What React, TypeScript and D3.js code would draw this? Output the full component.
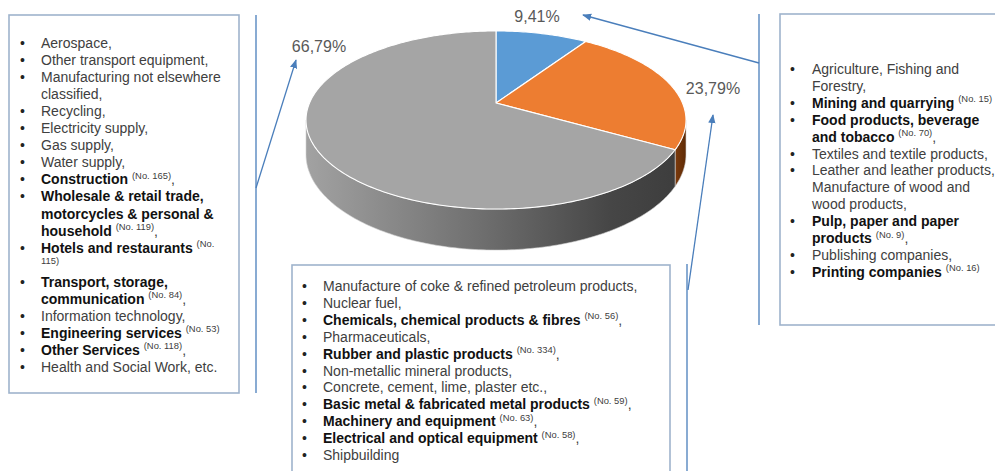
import React from "react";
import * as d3 from "d3";

// ---------- data ----------
const sliceValues = [9.41, 23.79, 66.79];
const sliceLabels = ["9,41%", "23,79%", "66,79%"];
const sliceColors = ["#5b9bd5", "#ed7d31", "#a5a5a5"];

// markup: "• " = bullet line, "  " = continuation, *bold*, ^superscript^
const leftLines = [
  "• Aerospace,",
  "• Other transport equipment,",
  "• Manufacturing not elsewhere",
  "  classified,",
  "• Recycling,",
  "• Electricity supply,",
  "• Gas supply,",
  "• Water supply,",
  "• *Construction* ^(No. 165)^,",
  "• *Wholesale & retail trade,*",
  "  *motorcycles & personal &*",
  "  *household* ^(No. 119)^,",
  "• *Hotels and restaurants* ^(No.^",
  "  ^115)^",
  "• *Transport, storage,*",
  "  *communication* ^(No. 84)^,",
  "• Information technology,",
  "• *Engineering services* ^(No. 53)^",
  "• *Other Services* ^(No. 118)^,",
  "• Health and Social Work, etc.",
];

const rightLines = [
  "• Agriculture, Fishing and",
  "  Forestry,",
  "• *Mining and quarrying* ^(No. 15)^",
  "• *Food products, beverage*",
  "  *and tobacco* ^(No. 70)^,",
  "• Textiles and textile products,",
  "• Leather and leather products,",
  "  Manufacture of wood and",
  "  wood products,",
  "• *Pulp, paper and paper*",
  "  *products* ^(No. 9)^,",
  "• Publishing companies,",
  "• *Printing companies* ^(No. 16)^",
];

const middleLines = [
  "• Manufacture of coke & refined petroleum products,",
  "• Nuclear fuel,",
  "• *Chemicals, chemical products & fibres* ^(No. 56)^,",
  "• Pharmaceuticals,",
  "• *Rubber and plastic products* ^(No. 334)^,",
  "• Non-metallic mineral products,",
  "• Concrete, cement, lime, plaster etc.,",
  "• *Basic metal & fabricated metal products* ^(No. 59)^,",
  "• *Machinery and equipment* ^(No. 63)^,",
  "• *Electrical and optical equipment* ^(No. 58)^,",
  "• Shipbuilding",
];

// ---------- layout ----------
const W = 995;
const H = 471;
const FONT = "'Liberation Sans', Arial, Helvetica, sans-serif";
const FS = 14;
const SUP = 9.4;
const pie3d = { cx: 496, cy: 103, A: 186.5, B: 85.8, k: 0.191, depth: 33.2 };
const labelPos = [
  [537, 16],
  [713, 88],
  [319, 46],
];
const boxes = [
  { x: 9, y: 15, w: 230, h: 378, bx: 20, tx: 41, y0: 43, dy: 17.05, lines: leftLines },
  { x: 292, y: 265, w: 378, h: 230, bx: 302, tx: 323, y0: 286, dy: 16.9, lines: middleLines },
  { x: 780, y: 14, w: 240, h: 311, bx: 790, tx: 812, y0: 69, dy: 16.9, lines: rightLines },
];
const connectors = [
  { v: [256, 15, 256, 393], d: [256, 188, 296, 60] },
  { v: [687, 264, 687, 475], d: [688, 290, 713, 115] },
  { v: [759, 14, 759, 325], d: [759, 63, 583, 15] },
];

function proj(theta: number, bottom = false): [number, number] {
  const { cx, cy, A, B, k, depth } = pie3d;
  const u = Math.sin(theta);
  const v = Math.cos(theta);
  const den = 1 + k * v;
  return [cx + (A * u) / den, cy - (B * v) / den + (bottom ? depth / den : 0)];
}

function arcPts(a: number, b: number, bottom = false): [number, number][] {
  const n = Math.max(2, Math.ceil(((b - a) * 180) / Math.PI));
  return d3.range(n + 1).map((i) => proj(a + ((b - a) * i) / n, bottom));
}

function parseLine(s: string) {
  const bullet = s.startsWith("•");
  const body = s.slice(2);
  const parts = body.split(/(\*[^*]+\*|\^[^^]+\^)/).filter((p) => p.length > 0);
  return {
    bullet,
    parts: parts.map((p) => {
      if (p.startsWith("*")) return { t: p.slice(1, -1), b: true, s: false };
      if (p.startsWith("^")) return { t: p.slice(1, -1), b: false, s: true };
      return { t: p, b: false, s: false };
    }),
  };
}

export default function App() {
  const pieGen = d3.pie<number>().sort(null).value((d) => d);
  const arcs = pieGen(sliceValues);
  const line = d3.line();
  const thR = Math.acos(-pie3d.k);
  const thL = 2 * Math.PI - thR;

  const sides = arcs
    .map((a, i) => {
      const s = Math.max(a.startAngle, thR);
      const e = Math.min(a.endAngle, thL);
      if (s >= e) return null;
      const pts = [...arcPts(s, e), ...arcPts(s, e, true).reverse()];
      return { i, d: line(pts) + "Z" };
    })
    .filter(Boolean) as { i: number; d: string }[];

  const tops = arcs.map((a, i) => {
    const pts: [number, number][] = [[pie3d.cx, pie3d.cy], ...arcPts(a.startAngle, a.endAngle)];
    return { i, d: line(pts) + "Z" };
  });

  return (
    <svg
      width={W}
      height={H}
      style={{ position: "absolute", left: 0, top: 0, background: "#fff" }}
      fontFamily={FONT}
    >
      <defs>
        <linearGradient id="greySide" gradientUnits="userSpaceOnUse" x1={306} y1={0} x2={686} y2={0}>
          <stop offset="0" stopColor="#a2a2a2" />
          <stop offset="0.45" stopColor="#707070" />
          <stop offset="0.8" stopColor="#464646" />
          <stop offset="1" stopColor="#3c3c3c" />
        </linearGradient>
        <linearGradient id="orangeSide" gradientUnits="userSpaceOnUse" x1={670} y1={0} x2={686} y2={0}>
          <stop offset="0" stopColor="#8a4210" />
          <stop offset="1" stopColor="#5e2a05" />
        </linearGradient>
        <marker id="arrow" viewBox="0 0 10 10" refX="9" refY="5" markerWidth="7" markerHeight="7" orient="auto">
          <path d="M0,1 L10,5 L0,9 z" fill="#4a7ebb" />
        </marker>
      </defs>

      {/* boxes */}
      {boxes.map((bx, bi) => (
        <g key={bi}>
          <rect x={bx.x} y={bx.y} width={bx.w} height={bx.h} fill="#fff" stroke="#9fb3cc" strokeWidth={1.6} />
          {bx.lines.map((ln, li) => {
            const p = parseLine(ln);
            const y = bx.y0 + li * bx.dy + 5;
            let shifted = false;
            return (
              <g key={li}>
                {p.bullet && (
                  <text x={bx.bx} y={y} fontSize={FS} fill="#222">
                    •
                  </text>
                )}
                <text x={bx.tx} y={y} fontSize={FS} style={{ whiteSpace: "pre" }}>
                  {p.parts.map((pt, pi) => {
                    let dy = 0;
                    if (pt.s && !shifted) {
                      dy = -5.5;
                      shifted = true;
                    } else if (!pt.s && shifted) {
                      dy = 5.5;
                      shifted = false;
                    }
                    return (
                      <tspan
                        key={pi}
                        dy={dy}
                        fontWeight={pt.b ? "bold" : "normal"}
                        fontSize={pt.s ? SUP : FS}
                        fill={pt.b ? "#111" : "#404040"}
                      >
                        {pt.t}
                      </tspan>
                    );
                  })}
                </text>
              </g>
            );
          })}
        </g>
      ))}

      {/* connectors */}
      {connectors.map((c, i) => (
        <g key={i} stroke="#4a7ebb" strokeWidth={1.3} fill="none">
          <line x1={c.v[0]} y1={c.v[1]} x2={c.v[2]} y2={c.v[3]} />
          <line x1={c.d[0]} y1={c.d[1]} x2={c.d[2]} y2={c.d[3]} markerEnd="url(#arrow)" />
        </g>
      ))}

      {/* 3D pie sides */}
      {sides.map((s) => (
        <path
          key={"s" + s.i}
          d={s.d}
          fill={s.i === 2 ? "url(#greySide)" : s.i === 1 ? "url(#orangeSide)" : "#2e5f8f"}
          stroke="#d0d0d0"
          strokeWidth={0.6}
        />
      ))}
      {/* top faces */}
      {tops.map((t) => (
        <path key={"t" + t.i} d={t.d} fill={sliceColors[t.i]} stroke="#fff" strokeWidth={1.1} strokeLinejoin="round" />
      ))}

      {/* labels */}
      {sliceLabels.map((l, i) => (
        <text key={i} x={labelPos[i][0]} y={labelPos[i][1] + 5.5} fontSize={16} fill="#595959" textAnchor="middle">
          {l}
        </text>
      ))}
    </svg>
  );
}
